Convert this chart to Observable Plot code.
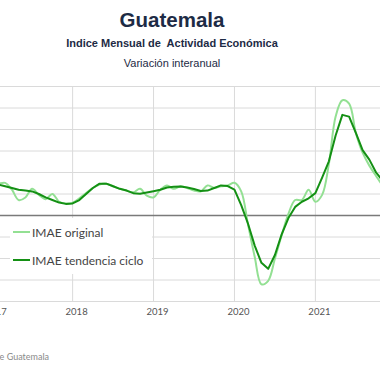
<!DOCTYPE html>
<html>
<head>
<meta charset="utf-8">
<script src="https://cdn.jsdelivr.net/npm/d3@7"></script>
<script src="https://cdn.jsdelivr.net/npm/@observablehq/plot@0.6"></script>
<style>
  html, body { margin: 0; padding: 0; background: #fff; }
  #frame { position: relative; width: 380px; height: 380px; overflow: hidden; background: #fff; }
  .t { position: absolute; left: 0; width: 344px; text-align: center; white-space: nowrap; color: #1d2b45; font-family: "Liberation Sans", Arial, sans-serif; }
  #title { top: 8px; font-size: 20.5px; font-weight: bold; }
  #sub { top: 37px; font-size: 11px; font-weight: bold; }
  #sub2 { top: 57px; font-size: 11px; }
  #chart { position: absolute; left: -24.7px; top: 76px; width: 437px; height: 260px; }
  #chart svg { max-width: none !important; }
  #legend { position: absolute; left: 10px; top: 218px; width: 142px; height: 56px; background: #fff; font-family: Lato, sans-serif; font-size: 12px; color: #444; }
  .row { position: absolute; left: 3px; height: 14px; display: flex; align-items: center; white-space: nowrap; }
  .sw { width: 17px; height: 0; border-top: 2px solid; margin-right: 2px; }
  #caption { position: absolute; right: 331px; top: 351px; white-space: nowrap; font-family: Lato, sans-serif; font-size: 9px; color: #8a8a8a; }
</style>
</head>
<body>
<div id="frame">
  <div class="t" id="title">Guatemala</div>
  <div class="t" id="sub">Indice Mensual de&nbsp; Actividad Económica</div>
  <div class="t" id="sub2">Variación interanual</div>
  <div id="chart"></div>
  <div id="legend">
    <div class="row" style="top:7px"><span class="sw" style="border-color:#93e093"></span>IMAE original</div>
    <div class="row" style="top:35px"><span class="sw" style="border-color:#149014"></span>IMAE tendencia ciclo</div>
  </div>
  <div id="caption">Fuente: Banco de Guatemala</div>
</div>
<script>
const startYear = 2017;
const yearTicks = [2017, 2018, 2019, 2020, 2021];
const yTicks = [-10, -7.5, -5, -2.5, 0, 2.5, 5, 7.5, 10, 12.5, 15];
const originalValues = [
  3.6, 3.7, 3.8, 3.0, 1.8, 2.1, 3.1, 2.4, 1.9, 2.5, 1.6, 1.4,
  1.5, 2.0, 2.6, 3.2, 3.6, 3.7, 3.4, 3.1, 2.9, 2.7, 3.1, 2.3,
  2.1, 3.0, 3.5, 3.1, 3.4, 3.2, 2.9, 2.8, 3.5, 3.2, 3.4, 3.5,
  3.8, 2.8, -1.0, -4.8, -8.0, -7.6, -5.0, -2.3, 0.2, 1.8, 1.8, 3.0,
  1.6, 2.4, 6.0, 11.5, 13.4, 13.0, 9.6, 7.3, 5.8, 4.6, 3.5, 3.0
];
const trendValues = [
  3.8, 3.6, 3.4, 3.2, 3.0, 2.9, 2.8, 2.5, 2.1, 1.8, 1.5, 1.35,
  1.4, 1.8, 2.5, 3.2, 3.7, 3.7, 3.4, 3.1, 2.9, 2.6, 2.52, 2.67,
  2.83, 3.0, 3.25, 3.33, 3.37, 3.25, 3.08, 2.85, 2.9, 3.2, 3.5, 3.43,
  3.0, 1.2, -0.93, -3.5, -5.5, -6.2, -4.6, -2.2, -0.3, 1.0, 1.6, 2.0,
  2.6, 4.4, 6.3, 9.3, 11.7, 11.5, 9.6, 7.6, 6.5, 5.0, 4.0, 3.5
];
const table = originalValues.map((v, i) => ({ t: startYear + i / 12, original: v, trend: trendValues[i] }));

const chart = Plot.plot({
  width: 437,
  height: 260,
  marginTop: 10,
  marginBottom: 35,
  marginLeft: 0,
  marginRight: 0,
  x: { domain: [2016.8, 2022.2], label: null },
  y: { domain: [-10, 15], label: null, axis: null },
  style: { fontFamily: "Lato, sans-serif", fontSize: "9.5px", color: "#555", background: "transparent", overflow: "visible", maxWidth: "none" },
  marks: [
    Plot.gridY(yTicks, { stroke: "#dadada", strokeOpacity: 1, strokeWidth: 1 }),
    Plot.gridX(yearTicks, { stroke: "#dadada", strokeOpacity: 1, strokeWidth: 1 }),
    Plot.ruleY([0], { stroke: "#7a7a7a", strokeWidth: 1.3 }),
    Plot.axisX(yearTicks, { tickSize: 0, tickPadding: 7, dx: 4, tickFormat: d => String(d), fill: "#555" }),
    Plot.line(table, { x: "t", y: "original", stroke: "#93e093", strokeWidth: 2, curve: "catmull-rom" }),
    Plot.line(table, { x: "t", y: "trend", stroke: "#149014", strokeWidth: 2 })
  ]
});
document.getElementById("chart").appendChild(chart);
</script>
</body>
</html>
